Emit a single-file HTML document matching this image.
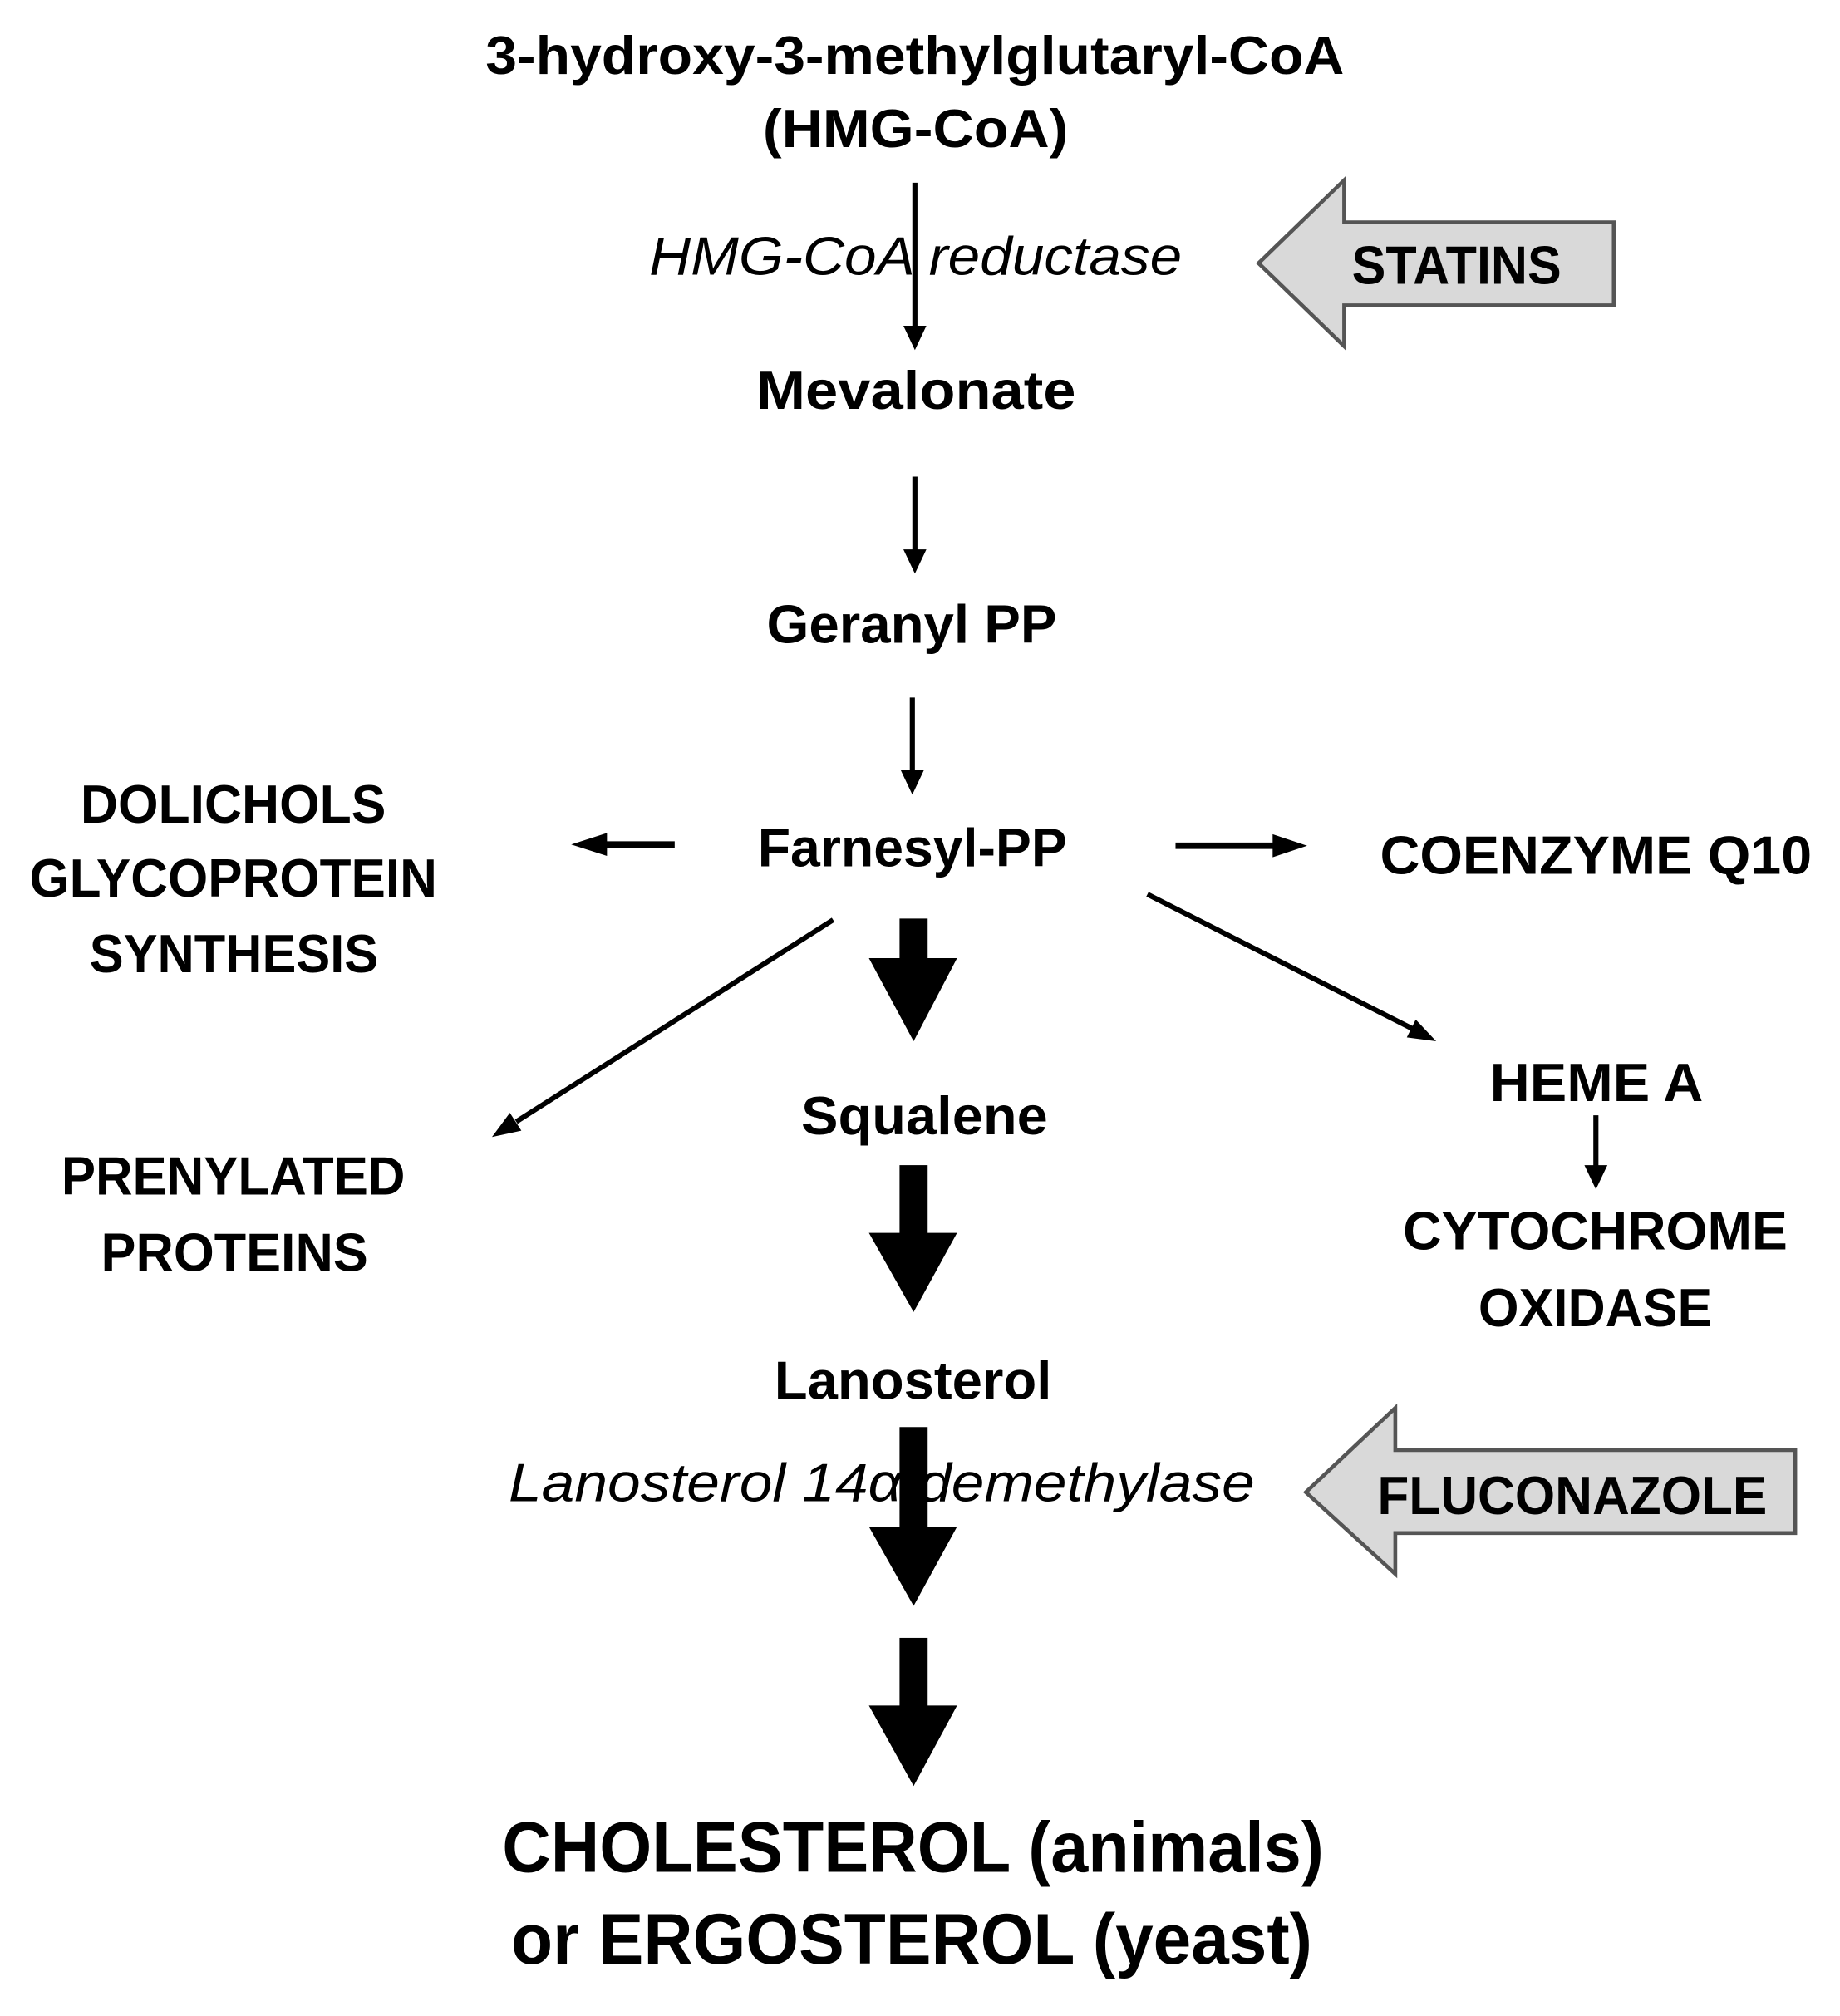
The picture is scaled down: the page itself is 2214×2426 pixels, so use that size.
<!DOCTYPE html>
<html><head><meta charset="utf-8"><style>
html,body{margin:0;padding:0;background:#fff;}
svg{display:block;}
text{font-family:"Liberation Sans",sans-serif;fill:#000;}
.b{font-weight:bold;}
.i{font-style:italic;}
</style></head><body>
<svg width="2214" height="2426" viewBox="0 0 1440 1578" xmlns="http://www.w3.org/2000/svg">
<g class="b" font-size="42">
<text x="380" y="58" textLength="672" lengthAdjust="spacingAndGlyphs">3-hydroxy-3-methylglutaryl-CoA</text>
<text x="597" y="115" textLength="239" lengthAdjust="spacingAndGlyphs">(HMG-CoA)</text>
<text x="592" y="320" textLength="250" lengthAdjust="spacingAndGlyphs">Mevalonate</text>
<text x="600" y="503" textLength="227" lengthAdjust="spacingAndGlyphs">Geranyl PP</text>
<text x="593" y="678" textLength="242" lengthAdjust="spacingAndGlyphs">Farnesyl-PP</text>
<text x="63" y="644" textLength="239" lengthAdjust="spacingAndGlyphs">DOLICHOLS</text>
<text x="23" y="702" textLength="319" lengthAdjust="spacingAndGlyphs">GLYCOPROTEIN</text>
<text x="70" y="761" textLength="226" lengthAdjust="spacingAndGlyphs">SYNTHESIS</text>
<text x="1080" y="684" textLength="338" lengthAdjust="spacingAndGlyphs">COENZYME Q10</text>
<text x="1166" y="862" textLength="167" lengthAdjust="spacingAndGlyphs">HEME A</text>
<text x="1098" y="978" textLength="301" lengthAdjust="spacingAndGlyphs">CYTOCHROME</text>
<text x="1157" y="1038" textLength="183" lengthAdjust="spacingAndGlyphs">OXIDASE</text>
<text x="48" y="935" textLength="269" lengthAdjust="spacingAndGlyphs">PRENYLATED</text>
<text x="79" y="995" textLength="209" lengthAdjust="spacingAndGlyphs">PROTEINS</text>
<text x="627" y="888" textLength="193" lengthAdjust="spacingAndGlyphs">Squalene</text>
<text x="606" y="1095" textLength="217" lengthAdjust="spacingAndGlyphs">Lanosterol</text>
</g>
<g class="i" font-size="42">
<text x="508" y="215" textLength="417" lengthAdjust="spacingAndGlyphs">HMG-CoA reductase</text>
<text x="398" y="1175" textLength="584" lengthAdjust="spacingAndGlyphs">Lanosterol 14α demethylase</text>
</g>
<g stroke="#000" stroke-width="4" fill="none">
<line x1="716" y1="143" x2="716" y2="258"/>
<line x1="716" y1="373" x2="716" y2="432"/>
<line x1="714" y1="546" x2="714" y2="605"/>
<line x1="1249" y1="873" x2="1249" y2="916"/>
<line x1="528" y1="661" x2="468" y2="661" stroke-width="5"/>
<line x1="920" y1="662" x2="1002" y2="662" stroke-width="5"/>
<line x1="652" y1="720" x2="404" y2="878"/>
<line x1="898" y1="700" x2="1105" y2="805"/>
</g>
<g fill="#000">
<polygon points="707,255 725,255 716,274"/>
<polygon points="707,430 725,430 716,449"/>
<polygon points="705,603 723,603 714,622"/>
<polygon points="1240,912 1258,912 1249,931"/>
<polygon points="475,652 475,670 447,661"/>
<polygon points="996,653 996,671 1023,662"/>
<polygon points="408,885 399,871 385,890"/>
<polygon points="1101,812 1108,798 1124,815"/>
<rect x="704" y="719" width="22" height="33"/><polygon points="680,750 749,750 715,815"/>
<rect x="704" y="912" width="22" height="55"/><polygon points="680,965 749,965 715,1027"/>
<rect x="704" y="1117" width="22" height="80"/><polygon points="680,1195 749,1195 715,1257"/>
<rect x="704" y="1282" width="22" height="55"/><polygon points="680,1335 749,1335 715,1398"/>
</g>
<polygon points="985,206 1052,141 1052,174 1263,174 1263,239 1052,239 1052,271" fill="#d9d9d9" stroke="#555" stroke-width="3"/>
<polygon points="1022,1168 1092,1102 1092,1135 1405,1135 1405,1200 1092,1200 1092,1232" fill="#d9d9d9" stroke="#555" stroke-width="3"/>
<g class="b" font-size="42">
<text x="1058" y="222" textLength="164" lengthAdjust="spacingAndGlyphs">STATINS</text>
<text x="1078" y="1185" textLength="305" lengthAdjust="spacingAndGlyphs">FLUCONAZOLE</text>
</g>
<g class="b" font-size="56">
<text x="393" y="1465" textLength="643" lengthAdjust="spacingAndGlyphs">CHOLESTEROL (animals)</text>
<text x="400" y="1537" textLength="627" lengthAdjust="spacingAndGlyphs">or ERGOSTEROL (yeast)</text>
</g>
</svg>
</body></html>
